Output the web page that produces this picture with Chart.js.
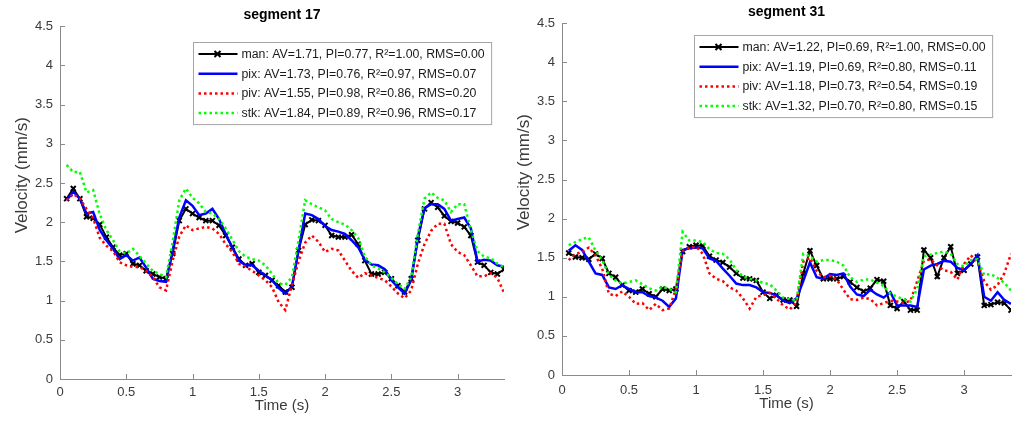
<!DOCTYPE html>
<html>
<head>
<meta charset="utf-8">
<script src="https://cdn.jsdelivr.net/npm/chart.js@4.4.1/dist/chart.umd.min.js"></script>
<style>
  body { margin: 0; background: #fff; width: 1019px; height: 421px; overflow: hidden; position: relative; }
  canvas { position: absolute; top: 0; }
  #seg17 { left: 0; }
  #seg31 { left: 502px; }
</style>
</head>
<body>
<canvas id="seg17" width="510" height="421"></canvas>
<canvas id="seg31" width="517" height="421"></canvas>
<script>
// time axis (s)
const times = [
  0.05, 0.1, 0.15, 0.2, 0.25, 0.3, 0.35, 0.4, 0.45, 0.5, 0.55, 0.6, 0.65, 0.7, 0.75, 0.8, 0.85, 0.9, 0.95, 1,
  1.05, 1.1, 1.15, 1.2, 1.25, 1.3, 1.35, 1.4, 1.45, 1.5, 1.55, 1.6, 1.65, 1.7, 1.75, 1.8, 1.85, 1.9, 1.95, 2,
  2.05, 2.1, 2.15, 2.2, 2.25, 2.3, 2.35, 2.4, 2.45, 2.5, 2.55, 2.6, 2.65, 2.7, 2.75, 2.8, 2.85, 2.9, 2.95, 3,
  3.05, 3.1, 3.15, 3.2, 3.25, 3.3, 3.35
];
const xTicks = [0, 0.5, 1, 1.5, 2, 2.5, 3];
const yTicks = [0, 0.5, 1, 1.5, 2, 2.5, 3, 3.5, 4, 4.5];

const seriesNames = ["man", "pix", "piv", "stk"];

// segment 17
const man17 = [
  2.30, 2.43, 2.30, 2.07, 2.05, 1.97, 1.81, 1.68, 1.58, 1.60, 1.47, 1.45, 1.38, 1.34, 1.30, 1.28, 1.60, 2.02, 2.17, 2.11,
  2.06, 2.02, 2.02, 1.96, 1.83, 1.68, 1.53, 1.45, 1.47, 1.36, 1.32, 1.26, 1.19, 1.11, 1.17, 1.64, 1.97, 2.03, 2.02, 1.96,
  1.83, 1.81, 1.81, 1.84, 1.72, 1.51, 1.34, 1.34, 1.36, 1.28, 1.19, 1.11, 1.28, 1.77, 2.17, 2.25, 2.19, 2.08, 2.01, 1.99,
  1.94, 1.83, 1.49, 1.45, 1.36, 1.34, 1.40
];
const pix17 = [
  2.28, 2.39, 2.30, 2.11, 2.13, 1.90, 1.77, 1.66, 1.53, 1.58, 1.51, 1.55, 1.42, 1.28, 1.25, 1.24, 1.64, 2.06, 2.28, 2.21,
  2.09, 2.11, 2.17, 2.04, 1.85, 1.68, 1.51, 1.45, 1.45, 1.38, 1.32, 1.26, 1.16, 1.09, 1.18, 1.64, 2.11, 2.09, 2.04, 1.95,
  1.90, 1.88, 1.85, 1.77, 1.68, 1.52, 1.46, 1.45, 1.40, 1.26, 1.17, 1.09, 1.26, 1.81, 2.18, 2.23, 2.23, 2.17, 2.02, 2.04,
  2.06, 1.92, 1.50, 1.52, 1.51, 1.45, 1.43
];
const piv17 = [
  2.28, 2.36, 2.30, 2.17, 2.05, 1.80, 1.70, 1.63, 1.49, 1.45, 1.43, 1.43, 1.38, 1.30, 1.17, 1.13, 1.51, 1.82, 1.96, 1.90,
  1.92, 1.94, 1.92, 1.85, 1.72, 1.62, 1.47, 1.43, 1.38, 1.32, 1.26, 1.17, 0.98, 0.88, 1.20, 1.50, 1.74, 1.83, 1.75, 1.62,
  1.66, 1.64, 1.51, 1.38, 1.29, 1.35, 1.32, 1.29, 1.26, 1.18, 1.09, 1.03, 1.13, 1.47, 1.72, 1.89, 1.98, 1.98, 1.72, 1.62,
  1.58, 1.45, 1.31, 1.31, 1.35, 1.29, 1.10
];
const stk17 = [
  2.73, 2.64, 2.64, 2.38, 2.41, 2.10, 1.90, 1.77, 1.63, 1.60, 1.66, 1.57, 1.47, 1.38, 1.34, 1.30, 1.75, 2.28, 2.43, 2.31,
  2.24, 2.13, 2.11, 2.04, 1.92, 1.78, 1.63, 1.56, 1.53, 1.51, 1.45, 1.34, 1.22, 1.20, 1.30, 1.77, 2.28, 2.23, 2.19, 2.15,
  2.04, 2.00, 1.97, 1.90, 1.80, 1.56, 1.45, 1.41, 1.36, 1.29, 1.21, 1.15, 1.30, 1.85, 2.30, 2.38, 2.31, 2.28, 2.13, 2.23,
  2.23, 1.90, 1.63, 1.56, 1.54, 1.47, 1.43
];
const av17 = [1.71, 1.73, 1.55, 1.84];
const pi17 = [0.77, 0.76, 0.98, 0.89];
const r2_17 = [1.00, 0.97, 0.86, 0.96];
const rms17 = [0.00, 0.07, 0.20, 0.17];

// segment 31
const man31 = [
  1.56, 1.51, 1.50, 1.48, 1.55, 1.49, 1.30, 1.25, 1.15, 1.08, 1.06, 1.10, 1.04, 1.00, 1.10, 1.08, 1.10, 1.58, 1.64, 1.66,
  1.65, 1.52, 1.47, 1.44, 1.38, 1.30, 1.24, 1.23, 1.21, 1.06, 0.98, 1.02, 0.96, 0.96, 0.88, 1.30, 1.59, 1.40, 1.23, 1.23,
  1.23, 1.26, 1.19, 1.12, 1.07, 1.11, 1.22, 1.20, 0.89, 0.85, 0.94, 0.83, 0.83, 1.60, 1.50, 1.26, 1.50, 1.64, 1.30, 1.34,
  1.42, 1.51, 0.89, 0.90, 0.93, 0.92, 0.83
];
const pix31 = [
  1.59, 1.66, 1.60, 1.45, 1.30, 1.28, 1.12, 1.10, 1.15, 1.10, 1.06, 1.06, 1.01, 0.99, 0.95, 0.87, 0.98, 1.60, 1.62, 1.63,
  1.62, 1.49, 1.46, 1.36, 1.27, 1.17, 1.15, 1.15, 1.12, 1.06, 1.05, 1.02, 0.95, 0.92, 0.98, 1.20, 1.44, 1.25, 1.23, 1.29,
  1.28, 1.30, 1.13, 1.03, 1.01, 1.09, 1.03, 0.99, 1.06, 0.89, 0.89, 0.89, 0.87, 1.35, 1.40, 1.42, 1.46, 1.45, 1.37, 1.34,
  1.42, 1.53, 1.00, 0.95, 1.06, 0.96, 0.91
];
const piv31 = [
  1.47, 1.55, 1.57, 1.63, 1.53, 1.36, 1.04, 1.01, 1.07, 1.00, 0.91, 0.92, 0.83, 0.91, 0.83, 0.85, 1.10, 1.58, 1.63, 1.64,
  1.55, 1.30, 1.23, 1.20, 1.12, 1.08, 0.98, 0.85, 1.00, 1.02, 1.05, 0.98, 0.89, 0.84, 0.93, 1.45, 1.50, 1.33, 1.25, 1.27,
  1.22, 1.09, 0.97, 0.96, 0.99, 0.97, 0.89, 0.92, 0.95, 0.94, 0.92, 0.95, 1.20, 1.46, 1.48, 1.40, 1.34, 1.32, 1.22, 1.42,
  1.53, 1.45, 1.20, 1.09, 1.15, 1.30, 1.55
];
const stk31 = [
  1.66, 1.70, 1.74, 1.76, 1.59, 1.47, 1.28, 1.21, 1.17, 1.19, 1.21, 1.16, 1.11, 1.08, 1.13, 1.10, 1.06, 1.83, 1.72, 1.72,
  1.70, 1.61, 1.56, 1.55, 1.48, 1.34, 1.26, 1.23, 1.21, 1.18, 1.16, 1.08, 0.99, 0.97, 0.95, 1.55, 1.52, 1.45, 1.47, 1.47,
  1.45, 1.40, 1.25, 1.19, 1.22, 1.22, 1.18, 1.14, 1.04, 1.00, 0.97, 0.94, 1.10, 1.52, 1.54, 1.56, 1.58, 1.55, 1.42, 1.39,
  1.47, 1.48, 1.28, 1.29, 1.24, 1.18, 1.08
];
const av31 = [1.22, 1.19, 1.18, 1.32];
const pi31 = [0.69, 0.69, 0.73, 0.70];
const r2_31 = [1.00, 0.80, 0.54, 0.80];
const rms31 = [0.00, 0.11, 0.19, 0.15];

const colors = ["#000000", "#0000ff", "#ff0000", "#00ff00"];
const axisColor = "#8a8a8a";
const textColor = "#3a3a3a";
const yTitle = "Velocity (mm/s)";

Chart.defaults.font.family = '"Liberation Sans", Arial, sans-serif';
Chart.defaults.color = textColor;

function legendText(k, av, pi, r2, rms) {
  return `${seriesNames[k]}: AV=${av[k].toFixed(2)}, PI=${pi[k].toFixed(2)}, R²=${r2[k].toFixed(2)}, RMS=${rms[k].toFixed(2)}`;
}

// inward ticks, y label and boxed legend inside the axes, matlab style
const matlabBits = {
  id: "matlabBits",
  afterDraw(chart, args, opts) {
    const { ctx, chartArea, scales } = chart;
    ctx.save();
    ctx.strokeStyle = axisColor;
    ctx.lineWidth = 1;
    ctx.setLineDash([]);
    xTicks.forEach(v => {
      const x = Math.round(scales.x.getPixelForValue(v)) + 0.5;
      ctx.beginPath();
      ctx.moveTo(x, chartArea.bottom);
      ctx.lineTo(x, chartArea.bottom - 5);
      ctx.stroke();
    });
    yTicks.forEach(v => {
      const y = Math.round(scales.y.getPixelForValue(v)) + 0.5;
      ctx.beginPath();
      ctx.moveTo(chartArea.left, y);
      ctx.lineTo(chartArea.left + 5, y);
      ctx.stroke();
    });

    // y label, sits a bit above the middle in the original
    ctx.save();
    ctx.translate(chartArea.left - 38, chartArea.top + 149);
    ctx.rotate(-Math.PI / 2);
    ctx.font = '17px "Liberation Sans", Arial, sans-serif';
    ctx.fillStyle = textColor;
    ctx.textAlign = "center";
    ctx.textBaseline = "middle";
    ctx.fillText(yTitle, 0, 0);
    ctx.restore();

    // legend
    ctx.font = '12.3px "Liberation Sans", Arial, sans-serif';
    const lines = opts.labels;
    const textW = Math.max(...lines.map(s => ctx.measureText(s).width));
    const boxW = 48 + textW + 7;
    const rowH = 19.7;
    const boxH = 11.5 * 2 + rowH * (lines.length - 1);
    const bx = Math.round(chartArea.right - opts.right - boxW) + 0.5;
    const by = Math.round(chartArea.top + opts.top) + 0.5;
    ctx.fillStyle = "#ffffff";
    ctx.fillRect(bx, by, boxW, boxH);
    ctx.strokeStyle = "#a6a6a6";
    ctx.lineWidth = 1;
    ctx.strokeRect(bx, by, boxW, boxH);

    lines.forEach((s, k) => {
      const y = by + 11.5 + k * rowH;
      const ds = chart.data.datasets[k];
      ctx.strokeStyle = ds.borderColor;
      ctx.lineWidth = ds.borderWidth;
      ctx.setLineDash(ds.borderDash);
      ctx.beginPath();
      ctx.moveTo(bx + 5, y);
      ctx.lineTo(bx + 44, y);
      ctx.stroke();
      ctx.setLineDash([]);
      if (ds.pointRadius > 0) {
        const cx = bx + 24, r = 3;
        ctx.lineWidth = 2;
        ctx.beginPath();
        ctx.moveTo(cx - r, y - r); ctx.lineTo(cx + r, y + r);
        ctx.moveTo(cx - r, y + r); ctx.lineTo(cx + r, y - r);
        ctx.stroke();
      }
      ctx.fillStyle = "#1a1a1a";
      ctx.textBaseline = "middle";
      ctx.textAlign = "left";
      ctx.fillText(s, bx + 48, y + 0.5);
    });
    ctx.restore();
  }
};

function drawSegment(canvasId, title, values, av, pi, r2, rms, look) {
  const datasets = values.map((arr, k) => ({
    label: seriesNames[k],
    data: arr.map((v, i) => ({ x: times[i], y: v })),
    borderColor: colors[k],
    backgroundColor: colors[k],
    borderWidth: k === 0 ? 2 : 2.5,
    borderDash: k >= 2 ? [2.5, 3] : [],
    pointStyle: "crossRot",
    pointRadius: k === 0 ? 3.5 : 0,
    pointBorderWidth: 2,
    pointBorderColor: colors[k],
    tension: 0,
    order: 4 - k
  }));

  new Chart(document.getElementById(canvasId), {
    type: "line",
    data: { datasets },
    plugins: [matlabBits],
    options: {
      responsive: false,
      animation: false,
      devicePixelRatio: 1,
      layout: { padding: { left: 0, right: look.padRight, top: 0, bottom: 0 } },
      plugins: {
        legend: { display: false },
        tooltip: { enabled: false },
        title: {
          display: true,
          text: title,
          fullSize: false,
          color: "#000000",
          font: { size: 14, weight: "bold" },
          padding: { top: look.titleTop, bottom: 2.4 }
        },
        matlabBits: {
          labels: seriesNames.map((n, k) => legendText(k, av, pi, r2, rms)),
          top: look.legTop,
          right: look.legRight
        }
      },
      scales: {
        x: {
          type: "linear",
          min: 0,
          max: 3.35,
          afterFit: s => { s.height = look.xHeight; },
          grid: { display: false, drawTicks: false },
          border: { display: true, color: axisColor, width: 1 },
          ticks: { stepSize: 0.5, includeBounds: false, padding: look.xTickPad, font: { size: 13 }, maxRotation: 0, callback: v => `${v}` },
          title: { display: true, text: "Time (s)", font: { size: 15 }, padding: { top: 0, bottom: look.xTitleBottom } }
        },
        y: {
          type: "linear",
          min: 0,
          max: 4.5,
          afterFit: s => { s.width = 60; },
          grid: { display: false, drawTicks: false },
          border: { display: true, color: axisColor, width: 1 },
          ticks: { stepSize: 0.5, padding: 7, font: { size: 13 }, callback: v => `${v}` },
          title: { display: false }
        }
      }
    }
  });
}

drawSegment("seg17", "segment 17", [man17, pix17, piv17, stk17], av17, pi17, r2_17, rms17,
  { padRight: 2, titleTop: 7, legTop: 16, legRight: 13, xHeight: 42, xTickPad: 6, xTitleBottom: 6, yTitleTop: 13 });
drawSegment("seg31", "segment 31", [man31, pix31, piv31, stk31], av31, pi31, r2_31, rms31,
  { padRight: 8, titleTop: 4, legTop: 12, legRight: 19, xHeight: 46, xTickPad: 8, xTitleBottom: 8, yTitleTop: 14 });
</script>
</body>
</html>
